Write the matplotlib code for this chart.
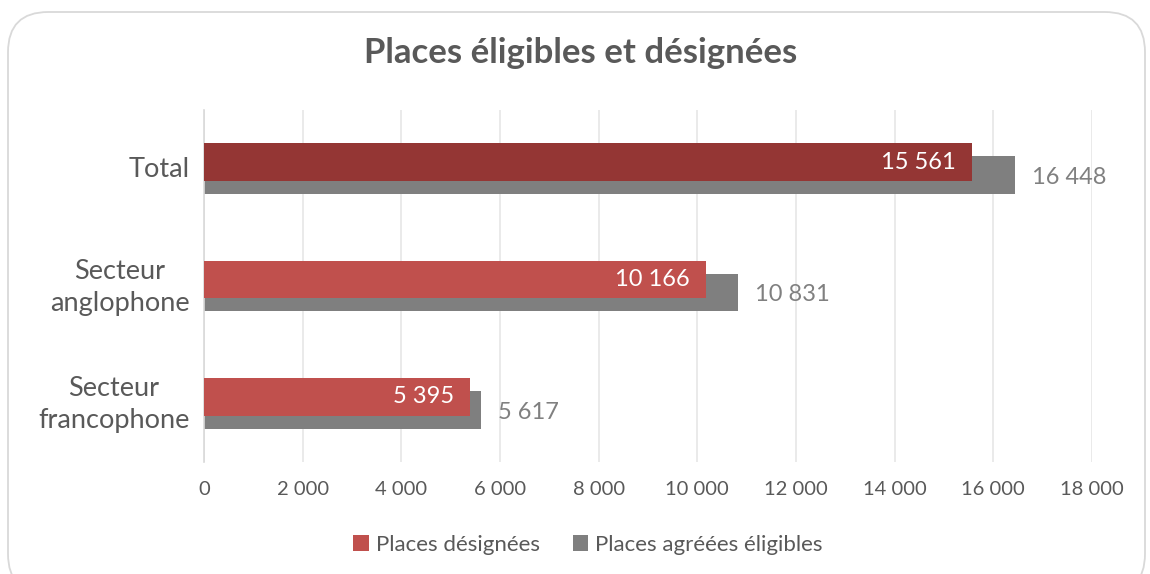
import matplotlib
matplotlib.use("Agg")
import matplotlib.pyplot as plt
from matplotlib.patches import FancyBboxPatch, Patch
from matplotlib.transforms import ScaledTranslation

plt.rcParams['font.family'] = ['Lato', 'DejaVu Sans']

categories = ["Total", "Secteur\nanglophone", "Secteur\nfrancophone"]
designees = [15561, 10166, 5395]
eligibles = [16448, 10831, 5617]
xticks = [0, 2000, 4000, 6000, 8000, 10000, 12000, 14000, 16000, 18000]

def fmt(v):
    return f"{v:,}".replace(",", " ")

red_colors = ["#943634", "#C0504D", "#C0504D"]
gray = "#7F7F7F"
txt = "#595959"

fig = plt.figure(figsize=(11.5, 5.74), dpi=100)
fig.patch.set_facecolor("white")
border = FancyBboxPatch((8/1150, -20/574), 1137/1150, (574-12+20)/574,
                        boxstyle="round,pad=0,rounding_size=0.035",
                        transform=fig.transFigure, fill=False,
                        edgecolor="#D9D9D9", linewidth=1.3, mutation_aspect=2.0)
fig.patches.append(border)

ax = fig.add_axes([204/1150, 1 - 462/574, (1092-204)/1150, (462-110)/574])
ypos = list(range(len(categories)))
h = 0.32
off = 0.056
ax.barh([y + off for y in ypos], eligibles, height=h, color=gray, zorder=2)
ax.barh([y - off for y in ypos], designees, height=h, color=red_colors, zorder=3)

for y, v in zip(ypos, designees):
    ax.text(v - 320, y - off, fmt(v), ha="right", va="center", color="white", fontsize=17, zorder=4)
for y, v in zip(ypos, eligibles):
    ax.text(v + 340, y + off + 0.02, fmt(v), ha="left", va="center", color="#808080", fontsize=17, zorder=4)

ax.set_ylim(2.5, -0.5)
ax.set_xlim(0, 18000)
ax.set_yticks(ypos)
ax.set_yticklabels(categories, fontsize=19.5, color=txt, ha="right")
ax.set_xticks(xticks)
ax.set_xticklabels([fmt(t) for t in xticks], fontsize=14.5, color=txt)
ax.tick_params(axis="both", length=0)
ax.tick_params(axis="x", pad=14)
ax.tick_params(axis="y", pad=10.5)
for lbl in ax.get_yticklabels():
    lbl.set_multialignment("center")
    lbl.set_linespacing(1.35)
    if "\n" in lbl.get_text():
        lbl.set_transform(lbl.get_transform() + ScaledTranslation(0, 5/100, fig.dpi_scale_trans))
    else:
        lbl.set_transform(lbl.get_transform() + ScaledTranslation(0, 2/100, fig.dpi_scale_trans))
ax.grid(axis="x", color="#E6E6E6", linewidth=1.2, zorder=0)
ax.set_axisbelow(True)
for s in ["top", "right", "bottom"]:
    ax.spines[s].set_visible(False)
ax.spines["left"].set_color("#D9D9D9")
ax.spines["left"].set_linewidth(1.2)

fig.text(581/1150, 1 - 53/574, "Places éligibles et désignées", ha="center", va="center",
         fontsize=25, fontweight="bold", color=txt)

handles = [Patch(facecolor="#C0504D", label="Places désignées"),
           Patch(facecolor=gray, label="Places agréées éligibles")]
fig.legend(handles=handles, loc="center", bbox_to_anchor=(588/1150, 1 - 545/574), ncol=2,
           frameon=False, fontsize=16, labelcolor=txt, handlelength=0.7, handleheight=0.7,
           handletextpad=0.3, columnspacing=1.5)

fig.savefig("out.png", dpi=100, facecolor="white")
